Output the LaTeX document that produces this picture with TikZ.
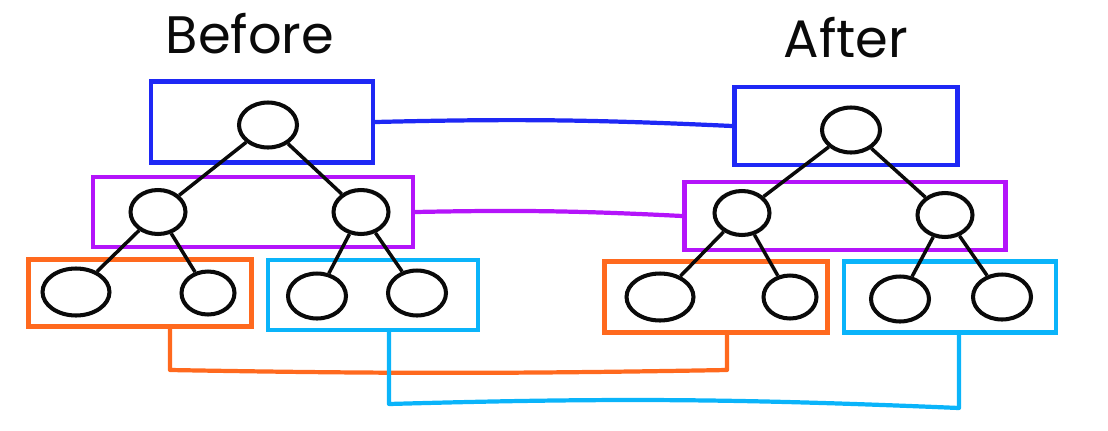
\documentclass[tikz,border=0pt]{standalone}
\usepackage{fontspec}
\setmainfont{Poppins}
\usepackage{xcolor}
\usepackage{tikz}
\usetikzlibrary{positioning,shapes.geometric}
\definecolor{ink}{RGB}{10,10,10}
\definecolor{lvlblue}{RGB}{30,40,245}
\definecolor{lvlpurple}{RGB}{180,20,250}
\definecolor{lvlorange}{RGB}{255,105,30}
\definecolor{lvlcyan}{RGB}{10,180,250}
\tikzset{
  bbox/.style={draw=lvlblue, rectangle, line width=2.6pt, inner sep=0pt},
  pbox/.style={draw=lvlpurple, rectangle, line width=2.6pt, inner sep=0pt},
  obox/.style={draw=lvlorange, rectangle, line width=2.6pt, inner sep=0pt},
  cbox/.style={draw=lvlcyan, rectangle, line width=2.6pt, inner sep=0pt},
  nd/.style={draw=ink, ellipse, line width=2.3pt, minimum width=1.16cm,
    minimum height=0.9cm, inner sep=0pt},
  edge/.style={draw=ink, line width=2pt},
  blink/.style={draw=lvlblue, line width=2.4pt, line cap=round, line join=round},
  plink/.style={draw=lvlpurple, line width=2.4pt, line cap=round, line join=round},
  olink/.style={draw=lvlorange, line width=2.4pt, line cap=round, line join=round},
  clink/.style={draw=lvlcyan, line width=2.4pt, line cap=round, line join=round},
  ttl/.style={font=\fontsize{30}{32}\selectfont, text=ink},
}
\begin{document}
\begin{tikzpicture}[x=0.02cm,y=-0.02cm]
  \useasboundingbox (0,0) rectangle (1108,430);
  % titles
  \node[ttl] (before) at (250,34) {Before};
  \node[ttl] (after) at (846,38) {After};
  % before
  \node[bbox, minimum width=4.44cm, minimum height=1.62cm] (lb) at (262,122) {};
  \node[pbox, minimum width=6.4cm, minimum height=1.4cm] (lp) at (253,212) {};
  \node[obox, minimum width=4.46cm, minimum height=1.34cm] (lo) at (140,293) {};
  \node[cbox, minimum width=4.2cm, minimum height=1.4cm] (lc) at (373,295) {};
  \node[nd] (lr) at (268,125) {};
  \node[nd, minimum width=1.1cm, minimum height=0.88cm] (lr1) at (158,212) {};
  \node[nd, minimum width=1.1cm, minimum height=0.88cm] (lr2) at (361,212) {};
  \node[nd, minimum width=1.34cm, minimum height=0.94cm] (lr11) at (76,292) {};
  \node[nd, minimum width=1.06cm, minimum height=0.86cm] (lr12) at (208,293) {};
  \node[nd] (lr21) at (317,296) {};
  \node[nd] (lr22) at (417,293) {};
  \draw[edge] (lr) -- (lr1);
  \draw[edge] (lr) -- (lr2);
  \draw[edge] (lr1) -- (lr11);
  \draw[edge] (lr1) -- (lr12);
  \draw[edge] (lr2) -- (lr21);
  \draw[edge] (lr2) -- (lr22);
  % after
  \node[bbox, minimum width=4.46cm, minimum height=1.56cm] (rb) at (846,126) {};
  \node[pbox, minimum width=6.42cm, minimum height=1.36cm] (rp) at (845,216) {};
  \node[obox, minimum width=4.46cm, minimum height=1.42cm] (ro) at (716,297) {};
  \node[cbox, minimum width=4.24cm, minimum height=1.42cm] (rc) at (950,297) {};
  \node[nd] (rr) at (851,130) {};
  \node[nd, minimum width=1.1cm, minimum height=0.88cm] (rr1) at (742,213) {};
  \node[nd, minimum width=1.1cm, minimum height=0.88cm] (rr2) at (945,215) {};
  \node[nd, minimum width=1.34cm, minimum height=0.94cm] (rr11) at (660,297) {};
  \node[nd, minimum width=1.06cm, minimum height=0.86cm] (rr12) at (790,297) {};
  \node[nd] (rr21) at (900,299) {};
  \node[nd] (rr22) at (1002,297) {};
  \draw[edge] (rr) -- (rr1);
  \draw[edge] (rr) -- (rr2);
  \draw[edge] (rr1) -- (rr11);
  \draw[edge] (rr1) -- (rr12);
  \draw[edge] (rr2) -- (rr21);
  \draw[edge] (rr2) -- (rr22);
  % links between levels
  \draw[blink] (lb.east) to[bend left=2] (rb.west);
  \draw[plink] (lp.east) to[bend left=2] (rp.west);
  \draw[olink] (170,0 |- lo.south) -- (170,370) to[bend right=1] (727,370) -- (727,0 |- ro.south);
  \draw[clink] (389,0 |- lc.south) -- (389,404) to[bend left=2] (959,408) -- (959,0 |- rc.south);
\end{tikzpicture}
\end{document}
